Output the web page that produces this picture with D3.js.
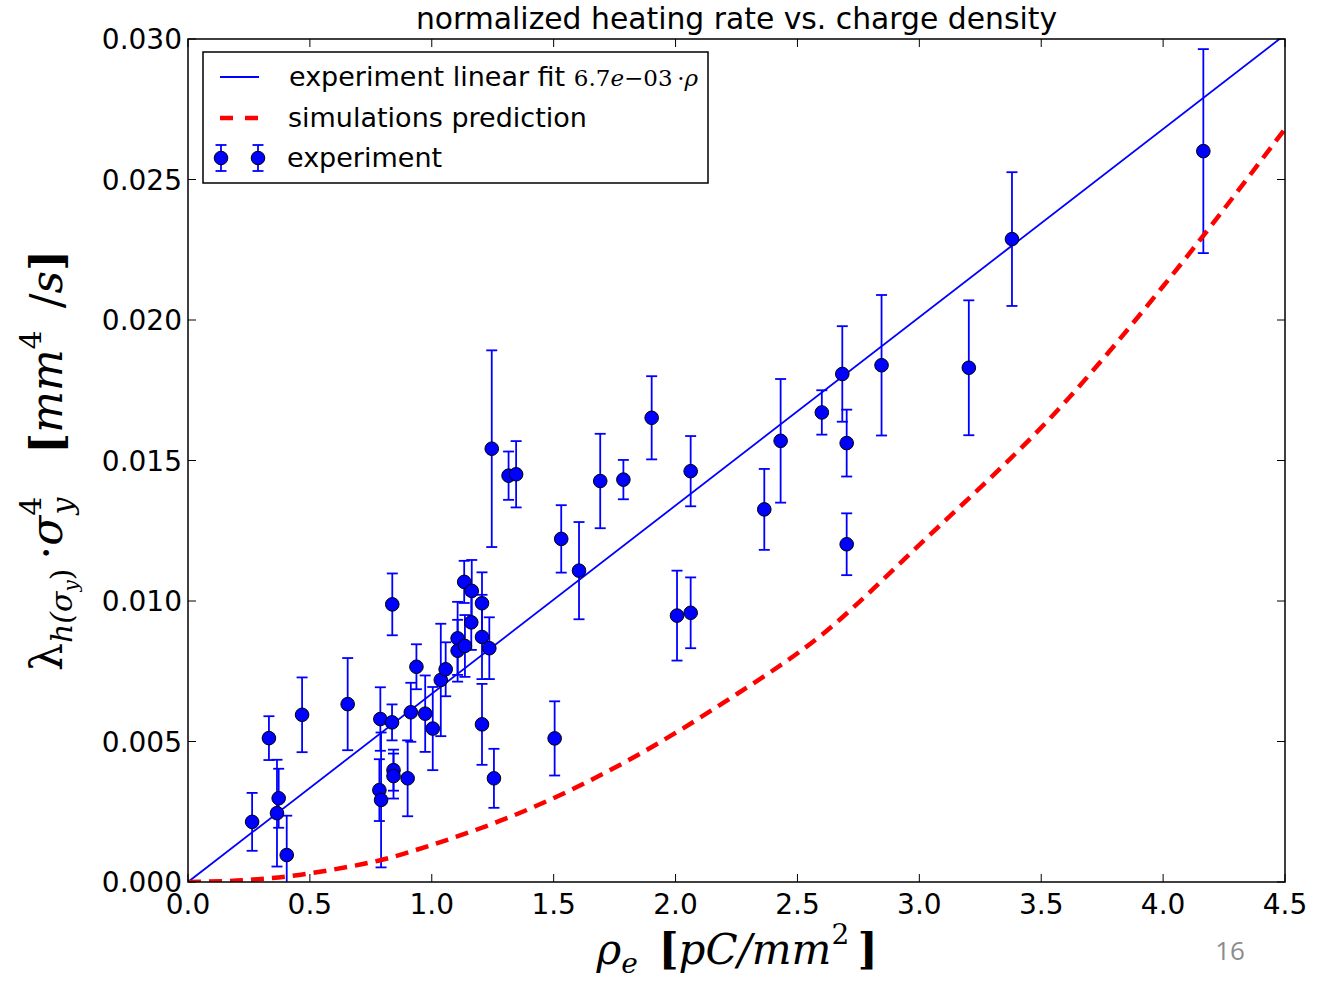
<!DOCTYPE html>
<html>
<head>
<meta charset="utf-8">
<script src="https://cdn.jsdelivr.net/npm/d3@7"></script>
<style>
  body { margin: 0; background: #fff; }
  svg { display: block; }
  .tick-label { font-family: "DejaVu Sans", sans-serif; font-size: 28px; fill: #000; }
</style>
</head>
<body>
<svg id="chart"></svg>
<script>
// measured experiment points: charge density, normalized heating rate, error
var rho = [0.263, 0.332, 0.372, 0.365, 0.405, 0.468, 0.655, 0.789, 0.785, 0.792,
  0.838, 0.837, 0.843, 0.843, 0.901, 0.914, 0.937, 0.973, 1.004, 1.037,
  1.057, 1.106, 1.106, 1.136, 1.133, 1.164, 1.162, 1.206, 1.206, 1.206,
  1.236, 1.255, 1.246, 1.315, 1.346, 1.531, 1.604, 1.691, 1.786, 1.902,
  2.062, 2.006, 2.062, 1.504, 2.364, 2.431, 2.600, 2.702, 2.702, 2.684,
  2.845, 3.203, 3.380, 4.165]
var heat = [0.00214, 0.00512, 0.00298, 0.00245, 0.00096, 0.00595, 0.00633, 0.00580, 0.00327, 0.00292,
  0.00988, 0.00568, 0.00398, 0.00377, 0.00369, 0.00604, 0.00766, 0.00599, 0.00546, 0.00719,
  0.00757, 0.00867, 0.00823, 0.00840, 0.01068, 0.01036, 0.00924, 0.00992, 0.00872, 0.00561,
  0.00832, 0.00369, 0.01542, 0.01446, 0.01451, 0.01221, 0.01108, 0.01427, 0.01432, 0.01652,
  0.01462, 0.00948, 0.00958, 0.00511, 0.01326, 0.01570, 0.01671, 0.01562, 0.01202, 0.01808,
  0.01839, 0.01830, 0.02288, 0.02601]
var heatErr = [0.00103, 0.00078, 0.00105, 0.00190, 0.00140, 0.00133, 0.00164, 0.00113, 0.00110, 0.00240,
  0.00110, 0.00064, 0.00073, 0.00080, 0.00135, 0.00105, 0.00080, 0.00136, 0.00148, 0.00200,
  0.00096, 0.00130, 0.00110, 0.00110, 0.00075, 0.00110, 0.00098, 0.00110, 0.00150, 0.00144,
  0.00110, 0.00105, 0.00350, 0.00086, 0.00118, 0.00120, 0.00173, 0.00168, 0.00070, 0.00148,
  0.00125, 0.00160, 0.00126, 0.00132, 0.00144, 0.00220, 0.00079, 0.00119, 0.00110, 0.00170,
  0.00250, 0.00240, 0.00238, 0.00363]

// linear fit of the experiment
var fitSlope = 6.7e-3
var fitRho = [0, 4.5]

// simulations prediction
var simRho = [0, 0.2, 0.4, 0.6, 0.8, 1.0, 1.4, 1.8, 2.2, 2.6, 3.0, 3.6, 4.0, 4.5]
var simHeat = [0, 0.00005, 0.00019, 0.00045, 0.0008, 0.00132, 0.0026, 0.0043, 0.0064, 0.0088, 0.0120, 0.0171, 0.0212, 0.0268]

// axis ticks
var xTicks = [0.0, 0.5, 1.0, 1.5, 2.0, 2.5, 3.0, 3.5, 4.0, 4.5]
var yTicks = [0.000, 0.005, 0.010, 0.015, 0.020, 0.025, 0.030]

var width = 1332
var height = 983
var margin = { left: 188, right: 1285, top: 39, bottom: 882 }

var svg = d3.select('#chart').attr('width', width).attr('height', height)

var x = d3.scaleLinear().domain([0, 4.5]).range([margin.left, margin.right])
var y = d3.scaleLinear().domain([0, 0.03]).range([margin.bottom, margin.top])

var points = rho.map(function (r, i) {
  return { rho: r, heat: heat[i], err: heatErr[i] }
})

svg.append('clipPath').attr('id', 'plot-clip')
  .append('rect')
  .attr('x', margin.left).attr('y', margin.top)
  .attr('width', margin.right - margin.left).attr('height', margin.bottom - margin.top)

var plot = svg.append('g').attr('clip-path', 'url(#plot-clip)')

// error bars
var bars = plot.append('g').attr('class', 'errorbars')
  .attr('stroke', '#0000ff').attr('stroke-width', 1.8)
points.forEach(function (d) {
  var top = y(d.heat + d.err)
  var bot = y(d.heat - d.err)
  var cx = x(d.rho)
  bars.append('line').attr('x1', cx).attr('x2', cx).attr('y1', top).attr('y2', bot)
  bars.append('line').attr('x1', cx - 5.5).attr('x2', cx + 5.5).attr('y1', top).attr('y2', top)
  bars.append('line').attr('x1', cx - 5.5).attr('x2', cx + 5.5).attr('y1', bot).attr('y2', bot)
})

// fit line
plot.append('path')
  .datum(fitRho)
  .attr('fill', 'none')
  .attr('stroke', '#0000ff')
  .attr('stroke-width', 1.8)
  .attr('d', d3.line().x(function (r) { return x(r) }).y(function (r) { return y(fitSlope * r) }))

// simulations prediction
plot.append('path')
  .datum(simRho.map(function (r, i) { return [r, simHeat[i]] }))
  .attr('fill', 'none')
  .attr('stroke', '#ff0000')
  .attr('stroke-width', 4.5)
  .attr('stroke-dasharray', '13,8')
  .attr('d', d3.line().curve(d3.curveMonotoneX).x(function (d) { return x(d[0]) }).y(function (d) { return y(d[1]) }))

// markers
plot.append('g').selectAll('circle')
  .data(points)
  .enter().append('circle')
  .attr('cx', function (d) { return x(d.rho) })
  .attr('cy', function (d) { return y(d.heat) })
  .attr('r', 6.8)
  .attr('fill', '#0000ff')
  .attr('stroke', '#000')
  .attr('stroke-width', 1)

// frame and inward ticks on all four sides
var axes = svg.append('g').attr('stroke', '#000')
axes.append('rect')
  .attr('x', margin.left).attr('y', margin.top)
  .attr('width', margin.right - margin.left).attr('height', margin.bottom - margin.top)
  .attr('fill', 'none').attr('stroke-width', 1.5)
xTicks.forEach(function (t) {
  axes.append('line').attr('x1', x(t)).attr('x2', x(t)).attr('y1', margin.bottom).attr('y2', margin.bottom - 8)
  axes.append('line').attr('x1', x(t)).attr('x2', x(t)).attr('y1', margin.top).attr('y2', margin.top + 8)
})
yTicks.forEach(function (t) {
  axes.append('line').attr('x1', margin.left).attr('x2', margin.left + 8).attr('y1', y(t)).attr('y2', y(t))
  axes.append('line').attr('x1', margin.right).attr('x2', margin.right - 8).attr('y1', y(t)).attr('y2', y(t))
})

svg.append('g').selectAll('text')
  .data(xTicks)
  .enter().append('text')
  .attr('class', 'tick-label')
  .attr('x', function (t) { return x(t) })
  .attr('y', margin.bottom + 32)
  .attr('text-anchor', 'middle')
  .text(function (t) { return d3.format('.1f')(t) })

svg.append('g').selectAll('text')
  .data(yTicks)
  .enter().append('text')
  .attr('class', 'tick-label')
  .attr('x', margin.left - 6)
  .attr('y', function (t) { return y(t) + 10 })
  .attr('text-anchor', 'end')
  .text(function (t) { return d3.format('.3f')(t) })

// title
svg.append('text')
  .attr('x', (margin.left + margin.right) / 2)
  .attr('y', 29)
  .attr('text-anchor', 'middle')
  .attr('font-family', 'DejaVu Sans')
  .attr('font-size', 29.8)
  .text('normalized heating rate vs. charge density')

// x label: rho_e [pC/mm^2 ]
var xl = svg.append('text')
  .attr('x', 737).attr('y', 964)
  .attr('text-anchor', 'middle')
  .attr('font-family', 'DejaVu Serif')
  .attr('font-size', 42)
xl.append('tspan').attr('font-style', 'italic').text('ρ')
xl.append('tspan').attr('font-style', 'italic').attr('font-size', 28).attr('dy', 9).text('e')
xl.append('tspan').attr('font-weight', 'bold').attr('dy', -9).text('\u2002[')
xl.append('tspan').attr('font-style', 'italic').text('pC/mm')
xl.append('tspan').attr('font-size', 28).attr('dy', -20).text('2')
xl.append('tspan').attr('font-weight', 'bold').attr('dy', 20).text('\u2009]')

// y label: lambda_h(sigma_y) . sigma_y^4 [mm^4 /s]
var yl = svg.append('text')
  .attr('transform', 'translate(62,' + ((margin.top + margin.bottom) / 2) + ') rotate(-90)')
  .attr('text-anchor', 'middle')
  .attr('font-family', 'DejaVu Serif')
  .attr('font-size', 44)
yl.append('tspan').text('λ')
yl.append('tspan').attr('font-style', 'italic').attr('font-size', 30).attr('dy', 10).text('h(σ')
yl.append('tspan').attr('font-style', 'italic').attr('font-size', 20).attr('dy', 6).text('y')
yl.append('tspan').attr('font-size', 30).attr('dy', -6).text(')')
yl.append('tspan').attr('dy', -10).text('\u2009·')
yl.append('tspan').attr('font-style', 'italic').text('σ')
yl.append('tspan').attr('font-size', 30).attr('dy', -21).text('4')
yl.append('tspan').attr('font-style', 'italic').attr('font-size', 30).attr('dx', -18).attr('dy', 32).text('y')
yl.append('tspan').attr('font-weight', 'bold').attr('dy', -11).text('\u2003[')
yl.append('tspan').attr('font-style', 'italic').text('mm')
yl.append('tspan').attr('font-size', 30).attr('dy', -21).text('4')
yl.append('tspan').attr('dy', 21).text('\u2002/')
yl.append('tspan').attr('font-style', 'italic').text('s')
yl.append('tspan').attr('font-weight', 'bold').text(']')

// legend
var legend = svg.append('g')
legend.append('rect')
  .attr('x', 203).attr('y', 52).attr('width', 505).attr('height', 131)
  .attr('fill', '#fff').attr('stroke', '#000').attr('stroke-width', 1.5)
legend.append('line')
  .attr('x1', 220).attr('x2', 259).attr('y1', 77).attr('y2', 77)
  .attr('stroke', '#0000ff').attr('stroke-width', 1.8)
legend.append('line')
  .attr('x1', 220).attr('x2', 259).attr('y1', 118).attr('y2', 118)
  .attr('stroke', '#ff0000').attr('stroke-width', 4.5).attr('stroke-dasharray', '13,12')
;[221, 258].forEach(function (mx) {
  legend.append('line').attr('x1', mx).attr('x2', mx).attr('y1', 145).attr('y2', 171)
    .attr('stroke', '#0000ff').attr('stroke-width', 1.8)
  legend.append('line').attr('x1', mx - 5.5).attr('x2', mx + 5.5).attr('y1', 145).attr('y2', 145)
    .attr('stroke', '#0000ff').attr('stroke-width', 1.8)
  legend.append('line').attr('x1', mx - 5.5).attr('x2', mx + 5.5).attr('y1', 171).attr('y2', 171)
    .attr('stroke', '#0000ff').attr('stroke-width', 1.8)
  legend.append('circle').attr('cx', mx).attr('cy', 158).attr('r', 6.8)
    .attr('fill', '#0000ff').attr('stroke', '#000').attr('stroke-width', 1)
})
var lt1 = legend.append('text').attr('x', 289).attr('y', 86)
  .attr('font-family', 'DejaVu Sans').attr('font-size', 27)
lt1.append('tspan').text('experiment linear fit ')
var lm = lt1.append('tspan').attr('font-family', 'DejaVu Serif').attr('font-size', 23)
lm.append('tspan').text('6.7')
lm.append('tspan').attr('font-style', 'italic').text('e')
lm.append('tspan').text('\u221203\u2009·')
lm.append('tspan').attr('font-style', 'italic').text('ρ')
legend.append('text').attr('x', 288).attr('y', 127)
  .attr('font-family', 'DejaVu Sans').attr('font-size', 27)
  .text('simulations prediction')
legend.append('text').attr('x', 287).attr('y', 167)
  .attr('font-family', 'DejaVu Sans').attr('font-size', 27)
  .text('experiment')

// slide page number
svg.append('text')
  .attr('x', 1230).attr('y', 960)
  .attr('text-anchor', 'middle')
  .attr('font-family', 'Open Sans')
  .attr('font-size', 26)
  .attr('fill', '#8c8c8c')
  .text('16')
</script>
</body>
</html>
